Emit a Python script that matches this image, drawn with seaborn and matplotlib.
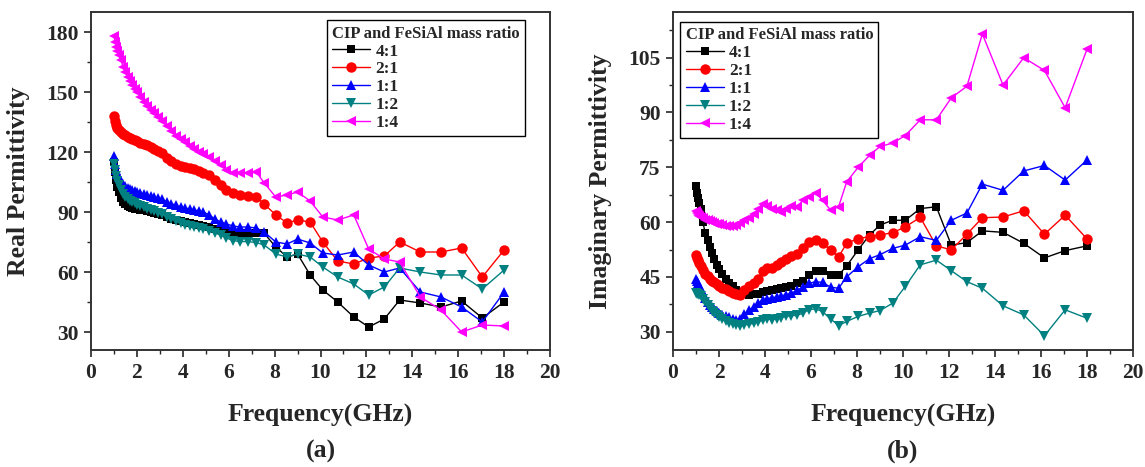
import pandas as pd
import matplotlib
matplotlib.use("Agg")
import matplotlib.pyplot as plt
import seaborn as sns
from matplotlib.ticker import MultipleLocator

# measurement frequencies (GHz), shared by all samples
freq = [1.0, 1.05, 1.1, 1.15, 1.2, 1.3, 1.4, 1.5, 1.6, 1.7, 1.8, 1.9, 2.0, 2.15,
        2.3, 2.45, 2.6, 2.75, 2.9, 3.1, 3.3, 3.5, 3.7, 3.9, 4.1, 4.3, 4.5, 4.7,
        4.9, 5.15, 5.4, 5.65, 5.9, 6.2, 6.5, 6.85, 7.2, 7.55, 8.05, 8.55, 9.0,
        9.55, 10.1, 10.75, 11.45, 12.1, 12.78, 13.45, 14.35, 15.25, 16.15, 17.05, 18.0]

ratios = ["4:1", "2:1", "1:1", "1:2", "1:4"]

# real permittivity
real_41 = [115, 110, 106, 102.5, 100, 97, 95, 94, 93, 92.5, 92, 91.7, 91.5, 91.2,
           91, 90.7, 90, 89.5, 89, 88.5, 87.5, 86.5, 86, 85.5, 85, 84.5, 84, 83.5,
           83, 82.5, 81.7, 81, 80.2, 79.5, 79.3, 79.3, 79.3, 79.3, 72.5, 67.5, 69,
           58.5, 51, 45, 37.5, 32.5, 36.5, 46, 44.5, 42.5, 45.5, 37, 45]
real_21 = [138, 135.5, 133.5, 132, 131, 130, 129, 128.3, 127.7, 127, 126.5, 126, 125.5, 124.7,
           124, 123.3, 122.5, 121.5, 120.5, 119.5, 117, 115.5, 114, 113, 112.5, 112, 111.5, 110.5,
           109.5, 108.5, 106, 103.5, 101, 99.5, 98.5, 98, 97.5, 94, 88.5, 84.5, 86,
           85, 75, 65.5, 64, 67, 68, 75, 70, 70, 72, 57.5, 71]
real_11 = [118, 114, 111, 109, 107.5, 105.5, 104, 103, 102, 101.5, 101, 100.5, 100, 99.5,
           99, 98.5, 98, 97.5, 97, 96.5, 95, 94, 93.5, 92.5, 92, 91.5, 91, 90.5,
           90, 88.5, 86.5, 85, 84, 83, 82.5, 82.5, 82, 80, 75, 74, 76.5,
           74.5, 69.5, 68.5, 70, 63.5, 60, 62, 50, 47.5, 42.5, 35, 50]
real_12 = [114, 111, 108, 105.5, 103.5, 101, 99, 97.5, 96.5, 95.5, 95, 94.3, 93.7, 93,
           92.3, 91.7, 91, 90.3, 89.7, 89, 87.5, 86.5, 85.5, 84.3, 83.5, 83, 82.5, 82,
           81.3, 80.5, 79.5, 78.5, 77, 75.7, 75.2, 75.2, 74.7, 73.5, 69, 67.5, 69,
           67.5, 62.5, 57.5, 54, 48.5, 52.5, 62, 60, 58.5, 58.5, 51.5, 61]
real_14 = [178, 175, 172.5, 170.5, 168.5, 166, 162.5, 160, 157.5, 155.5, 153.5, 151.5, 150, 147.5,
           145, 143, 141, 139.5, 137.5, 135.5, 133, 130.5, 128, 126.5, 125, 123, 121.5, 120,
           119, 117.5, 115.5, 113.5, 111, 109.5, 109.5, 109.5, 110, 104.5, 97.5, 98.5, 100,
           95.5, 87.5, 86, 88.5, 71.5, 66.5, 65, 47.5, 41, 30, 33.5, 33]

# imaginary permittivity
imag_41 = [69.8, 68, 66.5, 65.3, 63.5, 60, 57, 55, 53.3, 51.5, 49.8, 48.3, 47.2, 45.7,
           44.3, 43.3, 42.4, 41.3, 40.5, 40.2, 40.1, 40.2, 40.4, 40.8, 41.2, 41.5, 41.8, 42,
           42.3, 42.6, 43.3, 44, 45.5, 46.5, 46.5, 45.5, 45.5, 48, 52.4, 56.5, 59.2,
           60.5, 60.5, 63.7, 64.2, 53.7, 54.4, 57.6, 57.2, 54.2, 50.2, 52.2, 53.5]
imag_21 = [51, 50.2, 49.5, 48.7, 48, 46.8, 45.8, 45.2, 44.5, 43.9, 43.5, 43, 42.6, 42.1,
           41.6, 41.1, 40.6, 40.3, 40.1, 41.3, 42.4, 43.3, 44.3, 46.5, 47.4, 47.4, 48.3, 49.2,
           50, 50.7, 51.2, 52.8, 54.5, 55, 54.3, 52.4, 50.5, 54.2, 55.5, 56, 56.5,
           57.1, 58.7, 61.3, 53.5, 52.4, 56.7, 61.2, 61.4, 63.1, 56.7, 61.9, 55.4]
imag_11 = [44.5, 43.8, 43.2, 42.5, 41.8, 40.5, 39.2, 38, 37.3, 36.7, 36.2, 35.7, 35.2, 34.7,
           34.3, 33.9, 33.5, 33.3, 33.6, 34.9, 35.9, 36.8, 37.8, 38.7, 39, 39.3, 39.5, 39.8,
           40.1, 40.5, 41.4, 42.2, 43.2, 43.7, 43.5, 42.2, 41.9, 45, 47.8, 50, 51.1,
           52.8, 53.7, 56, 55, 60.5, 62.5, 70.4, 68.7, 74, 75.5, 71.5, 77]
imag_12 = [40.5, 40.3, 40.2, 40, 39.7, 38.9, 38.1, 37.3, 36.5, 35.8, 35.1, 34.6, 34.1, 33.4,
           32.9, 32.4, 32.1, 31.9, 31.6, 31.8, 32.1, 32.3, 32.7, 33.2, 33.6, 33.3, 33.5, 33.8,
           34.2, 34.4, 34.5, 35.1, 36, 36.3, 35.5, 33.5, 31.7, 32.8, 34.2, 35.1, 35.8,
           37.8, 42.4, 48.3, 49.6, 46.7, 43.7, 41.9, 37.1, 34.6, 28.9, 36, 33.7]
imag_14 = [63, 62.5, 62, 61.8, 61.5, 61, 60.7, 60.5, 60.2, 60, 59.8, 59.6, 59.4, 59.2,
           59, 59, 59, 59.3, 59.8, 60.5, 61.2, 62.2, 63.5, 65, 64.5, 63.5, 63.2, 62.8,
           63.5, 64.5, 64.2, 66, 67, 68, 66, 63.3, 64.2, 71, 75, 78.3, 80.7,
           81.6, 83.7, 88, 88, 94, 97.2, 111.5, 97.5, 105, 101.5, 91.3, 107.3]

colors = {"4:1": "#000000", "2:1": "#FF0000", "1:1": "#0000FF", "1:2": "#008080", "1:4": "#FF00FF"}
markers = {"4:1": "s", "2:1": "o", "1:1": "^", "1:2": "v", "1:4": "<"}
msizes = {"4:1": 6, "2:1": 7.5, "1:1": 7.5, "1:2": 7.5, "1:4": 7.5}

sns.set_theme(style="ticks")
plt.rcParams["font.family"] = ["Liberation Serif", "DejaVu Serif"]
plt.rcParams["font.weight"] = "bold"
plt.rcParams["axes.labelweight"] = "bold"
plt.rcParams["xtick.direction"] = "out"
plt.rcParams["ytick.direction"] = "out"


def draw_panel(ax, series, ylabel, ylim, ymajor, yminor, tag, legend_loc, legend_anchor):
    for r, vals in zip(ratios, series):
        df = pd.DataFrame({"Frequency": freq, "Value": vals})
        sns.lineplot(data=df, x="Frequency", y="Value", ax=ax, color=colors[r],
                     marker=markers[r], markersize=msizes[r], markeredgewidth=0,
                     linewidth=1.0, label=r)
    ax.set_xlim(0, 20)
    ax.set_ylim(*ylim)
    ax.xaxis.set_major_locator(MultipleLocator(2))
    ax.xaxis.set_minor_locator(MultipleLocator(1))
    ax.yaxis.set_major_locator(MultipleLocator(ymajor))
    ax.yaxis.set_minor_locator(MultipleLocator(yminor))
    ax.tick_params(which="major", length=5, width=1.2, labelsize=15.5, pad=4)
    ax.tick_params(which="minor", length=3, width=1.0)
    for s in ax.spines.values():
        s.set_visible(True)
        s.set_color("#333333")
        s.set_linewidth(1.4)
    ax.set_xlabel("Frequency(GHz)", fontsize=18.5)
    ax.set_ylabel(ylabel, fontsize=18.5)
    ax.xaxis.set_label_coords(0.5, -0.16)
    ax.yaxis.set_label_coords(-0.133, 0.5)
    ax.text(0.5, -0.30, tag, transform=ax.transAxes, ha="center", va="center",
            fontsize=18.5, fontweight="bold")
    leg = ax.legend(title="CIP and FeSiAl mass ratio", loc=legend_loc,
                    bbox_to_anchor=legend_anchor, fontsize=12.5,
                    title_fontproperties={"weight": "bold", "size": 12},
                    alignment="left", frameon=True, fancybox=False, framealpha=1,
                    edgecolor="black", handlelength=2.2, labelspacing=0.1,
                    borderpad=0.3, handletextpad=0.3, borderaxespad=0)
    leg.get_frame().set_linewidth(1.0)


fig = plt.figure(figsize=(11.45, 4.67), dpi=100)
ax1 = fig.add_axes([91 / 1145, 117 / 467, 459 / 1145, 338 / 467])
ax2 = fig.add_axes([673 / 1145, 117 / 467, 460 / 1145, 338 / 467])

draw_panel(ax1, [real_41, real_21, real_11, real_12, real_14], "Real Permittivity",
           (21, 190), 30, 15, "(a)", "upper right", (0.945, 0.975))
draw_panel(ax2, [imag_41, imag_21, imag_11, imag_12, imag_14], "Imaginary Permittivity",
           (25, 117.5), 15, 7.5, "(b)", "upper left", (0.016, 0.97))

fig.savefig("out.png", dpi=100)
